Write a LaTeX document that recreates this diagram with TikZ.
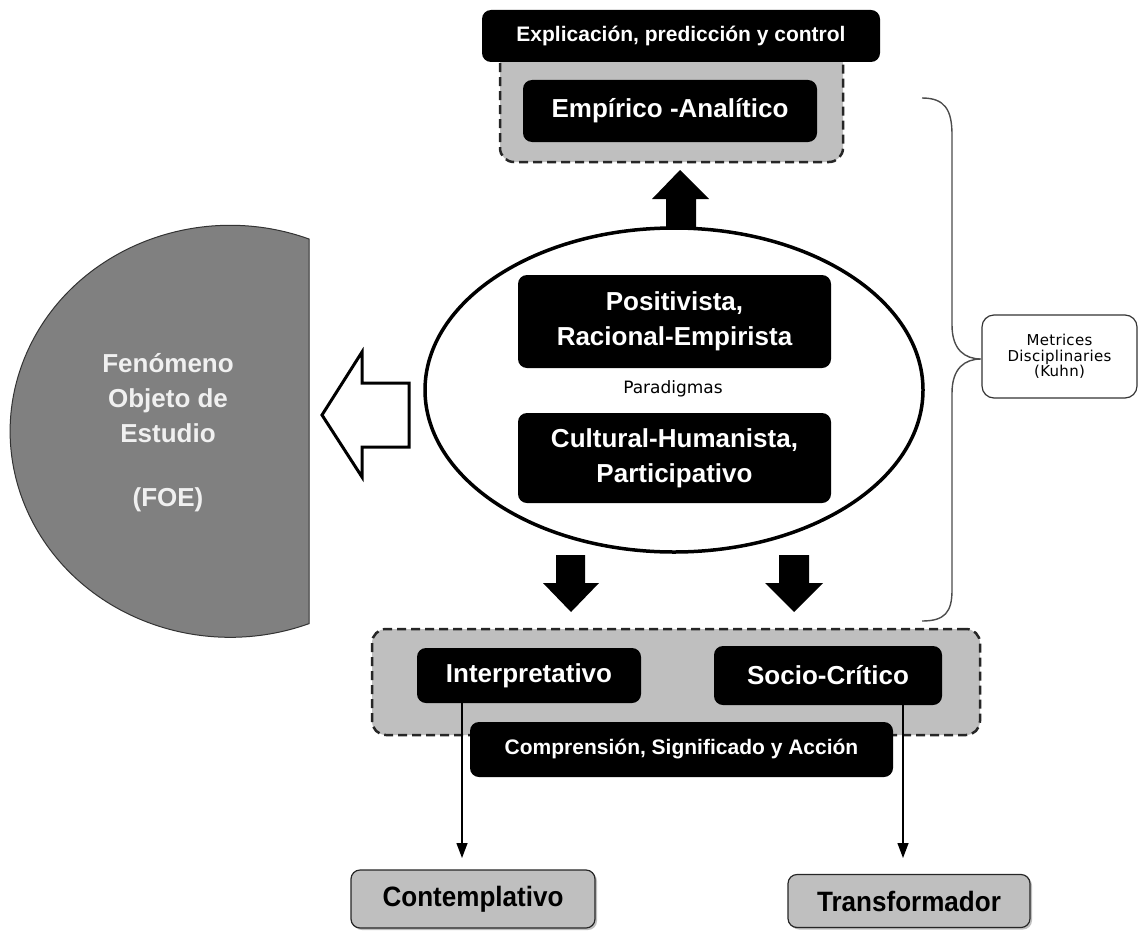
\documentclass[tikz,border=0pt]{standalone}
\usepackage{fontspec}
\setmainfont{Liberation Sans}
\newfontfamily\dvfont{DejaVu Sans}
\newfontfamily\dvwide{DejaVu Sans}[LetterSpace=2]
\newfontfamily\narrowfont{Liberation Sans}[FakeStretch=0.93]
\usetikzlibrary{arrows.meta,shapes.geometric,shadows}
\newcommand\fsz[2]{\fontsize{#1}{#2}\selectfont}
\begin{document}
\begin{tikzpicture}[x=1pt,y=-1pt,
  blk/.style={fill=black, rounded corners=9pt, text=white, align=center, inner sep=0pt},
  grp/.style={draw=black!85, fill=black!25, dash pattern=on 9pt off 5pt, line width=2.5pt, rounded corners=14pt, inner sep=0pt},
  outbox/.style={draw=black!85, fill=black!25, rounded corners=9pt, line width=1.2pt, inner sep=0pt,
     font=\narrowfont\bfseries\fsz{28}{32}, drop shadow={shadow xshift=2pt, shadow yshift=-2pt, fill=black!50}},
  blockarrow/.style={fill=black},
  conn/.style={line width=1.3pt, -{Triangle[width=11pt,length=15pt]}},
  bracestyle/.style={draw=black!70, line width=1.4pt},
]
\useasboundingbox (0,0) rectangle (1139,931);

% FOE half disc
\path[fill=black!50, draw=black!80, line width=1pt]
  (309,239) arc[start angle=69, end angle=291, x radius=220pt, y radius=206pt] -- cycle;
\node[text=white!94!black, font=\bfseries\fsz{26}{35}, align=center] (foe) at (168,433)
  {Fenómeno\\Objeto de\\Estudio\\[29pt](FOE)};

% hollow arrow
\draw[line width=3pt, fill=white, line join=miter]
  (322,415) -- (362,352) -- (362,383) -- (409,383) -- (409,447) -- (362,447) -- (362,477) -- cycle;

% central ellipse
\node[draw, ellipse, line width=3.5pt, minimum width=498pt, minimum height=324pt, inner sep=0pt] (ell) at (674,390) {};
\node[blk, minimum width=313pt, minimum height=93pt, font=\bfseries\fsz{26}{35}] (pos) at (674.5,321.5)
  {Positivista,\\Racional-Empirista};
\node[font=\dvfont\fsz{17}{20}] (par) at (673,389) {Paradigmas};
\node[blk, minimum width=313pt, minimum height=90pt, font=\bfseries\fsz{26}{35}] (cult) at (674.5,458)
  {Cultural-Humanista,\\Participativo};

% block arrows
\fill[blockarrow] (666,229) -- (666,199) -- (652,199) -- (680,170) -- (709,199) -- (696,199) -- (696,229) -- cycle;
\fill[blockarrow] (556,555) -- (585,555) -- (585,583) -- (599,583) -- (571,612) -- (543,583) -- (556,583) -- cycle;
\fill[blockarrow] (779,555) -- (809,555) -- (809,583) -- (823,583) -- (794,612) -- (765,583) -- (779,583) -- cycle;

% top group
\node[grp, minimum width=343pt, minimum height=112pt] (topgrp) at (671.5,106) {};
\node[blk, minimum width=398pt, minimum height=52pt, font=\bfseries\fsz{21}{25}] (expl) at (681,36)
  {Explicación, predicción y control};
\node[blk, minimum width=294pt, minimum height=62pt, font=\bfseries\fsz{26}{30}] (emp) at (670,111)
  {Empírico -Analítico};

% bottom group
\node[grp, minimum width=608pt, minimum height=106pt] (botgrp) at (676,682) {};
\node[blk, minimum width=224pt, minimum height=55pt, font=\bfseries\fsz{26}{30}] (interp) at (529,675.5) {Interpretativo};
\node[blk, minimum width=228pt, minimum height=59pt, font=\bfseries\fsz{26}{30}] (socio) at (828,675.5) {Socio-Crítico};
\node[blk, minimum width=423pt, minimum height=55pt, font=\bfseries\fsz{21}{25}] (compr) at (681.5,749.5)
  {Comprensión, Significado y Acción};

% outputs
\node[outbox, minimum width=244pt, minimum height=58pt] (contem) at (473,899) {Contemplativo};
\node[outbox, minimum width=242pt, minimum height=53pt] (transf) at (909,901) {Transformador};
\coordinate (t1) at (462,858);
\coordinate (t2) at (903,858);
\draw[conn] (interp.south -| t1) -- (t1);
\draw[conn] (socio.south -| t2) -- (t2);

% brace and label
\draw[bracestyle] (922,98) .. controls (945,98) and (952,110) .. (952,135) -- (952,325)
  .. controls (952,350) and (965,359) .. (981,359)
  .. controls (965,359) and (952,368) .. (952,393) -- (952,590)
  .. controls (952,612) and (945,621) .. (922,621);
\node[draw=black!80, line width=1.2pt, rounded corners=12pt, minimum width=155pt, minimum height=83pt,
  font=\dvwide\fsz{15}{15.5}, align=center, inner sep=0pt] (metr) at (1059.5,356.5)
  {Metrices\\Disciplinaries\\(Kuhn)};
\end{tikzpicture}
\end{document}
